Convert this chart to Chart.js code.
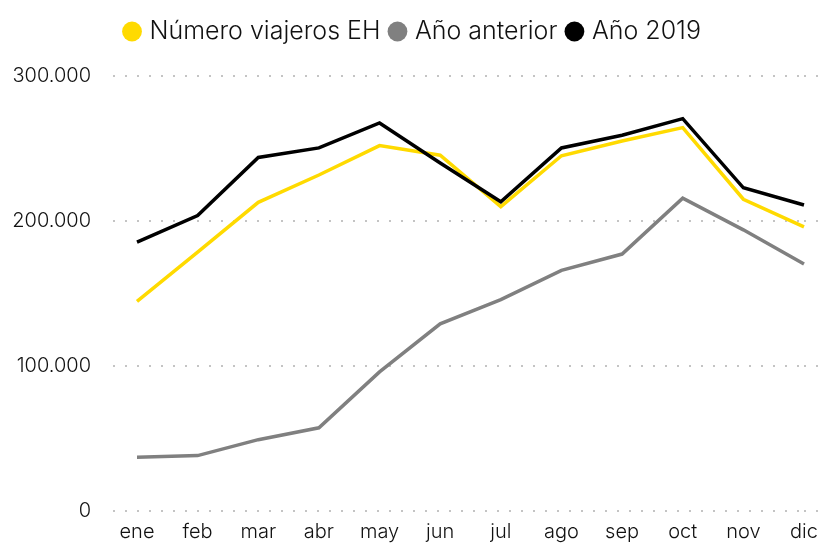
<!DOCTYPE html>
<html>
<head>
<meta charset="utf-8">
<script src="https://cdn.jsdelivr.net/npm/chart.js@4/dist/chart.umd.min.js"></script>
<style>
  html, body { margin: 0; padding: 0; background: #fff; }
  #wrap { width: 828px; height: 545px; }
</style>
</head>
<body>
<div id="wrap"><canvas id="grafico"></canvas></div>
<script>
// datos
const meses = ['ene', 'feb', 'mar', 'abr', 'may', 'jun', 'jul', 'ago', 'sep', 'oct', 'nov', 'dic'];
const viajerosEH = [144600, 178600, 212900, 231700, 252000, 245400, 209900, 245000, 255200, 264400, 215000, 196000];
const anoAnterior = [37100, 38200, 49200, 57400, 95900, 129100, 145800, 166000, 177200, 215700, 193900, 170300];
const ano2019 = [185400, 203700, 243800, 250400, 267600, 240000, 213300, 250400, 259100, 270600, 222900, 211000];
const ticksY = [0, 100000, 200000, 300000];

const fuente = "'Inter', 'DejaVu Sans', sans-serif";
const gris = '#c4c4c4';

function serie(label, data, color, order) {
  return {
    label, data, order,
    borderColor: color,
    backgroundColor: color,
    borderWidth: 3.5,
    pointRadius: 0,
    pointHoverRadius: 0,
    tension: 0
  };
}

new Chart(document.getElementById('grafico'), {
  type: 'line',
  data: {
    labels: meses,
    datasets: [
      serie('Número viajeros EH', viajerosEH, '#FFDA00', 2),
      serie('Año anterior', anoAnterior, '#808080', 3),
      serie('Año 2019', ano2019, '#000000', 1)
    ]
  },
  options: {
    responsive: true,
    maintainAspectRatio: false,
    animation: false,
    layout: { padding: { top: 7, left: 0, right: 0, bottom: 0 } },
    plugins: {
      tooltip: { enabled: false },
      legend: {
        position: 'top',
        labels: {
          usePointStyle: true,
          pointStyle: 'circle',
          boxWidth: 10,
          boxHeight: 14,
          padding: 12,
          color: '#111',
          font: { family: fuente, size: 25, weight: 300 },
          sort: (a, b) => a.datasetIndex - b.datasetIndex,
          generateLabels: chart => Chart.defaults.plugins.legend.labels.generateLabels(chart)
            .map(l => ({ ...l, lineWidth: 0 }))
        }
      }
    },
    scales: {
      x: {
        offset: false,
        grid: { display: false, drawTicks: false },
        border: { display: false },
        ticks: {
          padding: 9,
          color: '#111',
          maxRotation: 0,
          font: { family: fuente, size: 20, weight: 300 }
        },
        afterFit: s => { s.height = 33; }
      },
      y: {
        min: 0,
        max: 300000,
        afterBuildTicks: s => { s.ticks = ticksY.map(v => ({ value: v })); },
        border: { display: false, dash: [2, 10] },
        grid: {
          color: gris,
          lineWidth: 2,
          tickLength: 24,
          tickColor: gris,
          tickBorderDash: [2, 10]
        },
        ticks: {
          padding: 22,
          color: '#111',
          font: { family: fuente, size: 20, weight: 300 },
          callback: v => v.toLocaleString('de-DE')
        },
        afterFit: s => { s.width = 137; }
      },
      y2: {
        position: 'right',
        min: 0,
        max: 300000,
        afterBuildTicks: s => { s.ticks = ticksY.map(v => ({ value: v })); },
        border: { display: false, dash: [2, 10] },
        grid: {
          drawOnChartArea: false,
          color: gris,
          lineWidth: 2,
          tickLength: 24,
          tickColor: gris,
          tickBorderDash: [2, 10]
        },
        ticks: { display: false },
        afterFit: s => { s.width = 24; }
      }
    }
  },
  plugins: [{
    id: 'ajustes',
    afterInit(chart) {
      // más aire bajo la leyenda
      const leyenda = chart.legend;
      const fit = leyenda.fit;
      leyenda.fit = function () { fit.call(this); this.height += 22; };
    }
  }]
});
</script>
</body>
</html>
